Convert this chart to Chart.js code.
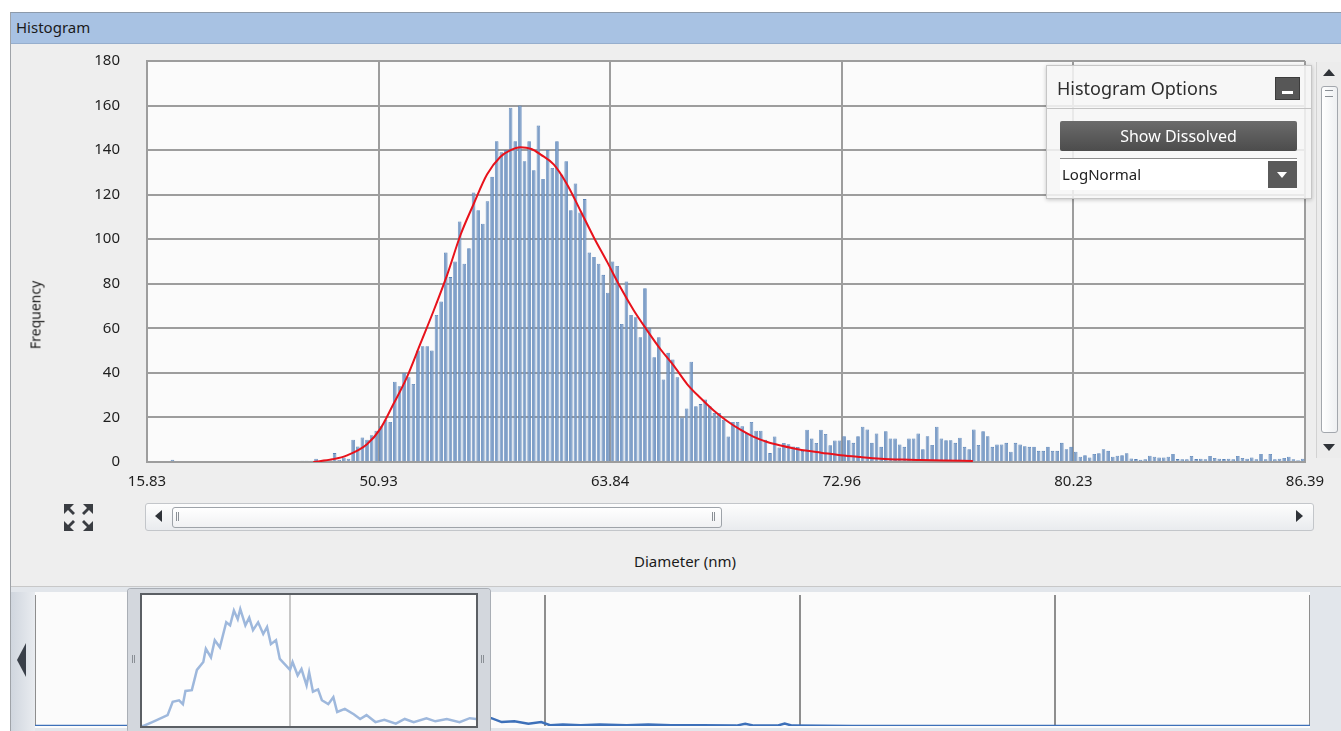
<!DOCTYPE html>
<html>
<head>
<meta charset="utf-8">
<script src="https://cdn.jsdelivr.net/npm/chart.js@4.4.1/dist/chart.umd.min.js"></script>
<style>
  body { margin: 0; background: #fff; font-family: 'Noto Sans', sans-serif; }
  #page { position: relative; width: 1341px; height: 731px; overflow: hidden; background: #fff; }
  .abs { position: absolute; }
  #panel { left: 10px; top: 12px; width: 1331px; height: 719px; background: #eeeeee; border-left: 1px solid #9fa3a8; border-top: 1px solid #8c9aab; }
  #header { left: 11px; top: 13px; width: 1330px; height: 30px; background: #a8c2e3; border-bottom: 1px solid #96aecd; }
  #header span { position: absolute; left: 5px; top: 4px; font-size: 15px; color: #1b1b1b; }
  #yTitle { left: 35px; top: 315px; font-size: 14px; color: #1b1b1b; transform: translate(-50%, -50%) rotate(-90deg); white-space: nowrap; }
  #xTitle { left: 685px; top: 561px; font-size: 15px; color: #1b1b1b; transform: translate(-50%, -50%); }
  #hscroll { left: 145px; top: 503px; width: 1167px; height: 26px; border: 1px solid #c3c6ca; border-radius: 3px; background: linear-gradient(#fdfdfd, #e9ebee); }
  #hthumb { left: 172px; top: 507px; width: 548px; height: 19px; border: 1px solid #9ea3a9; border-radius: 3px; background: linear-gradient(#ffffff, #f0f1f3); }
  .grip { width: 1px; height: 9px; border-left: 1px solid #8a8f95; border-right: 1px solid #8a8f95; }
  .triL { width: 0; height: 0; border-top: 6px solid transparent; border-bottom: 6px solid transparent; border-right: 7px solid #2f3338; }
  .triR { width: 0; height: 0; border-top: 6px solid transparent; border-bottom: 6px solid transparent; border-left: 7px solid #2f3338; }
  .triU { width: 0; height: 0; border-left: 6px solid transparent; border-right: 6px solid transparent; border-bottom: 7px solid #2f3338; }
  .triD { width: 0; height: 0; border-left: 6px solid transparent; border-right: 6px solid transparent; border-top: 7px solid #2f3338; }
  #vscroll { left: 1316px; top: 62px; width: 24px; height: 396px; background: #ececec; border-left: 1px solid #d2d2d2; }
  #vthumb { left: 1321px; top: 86px; width: 15px; height: 345px; border: 1px solid #a3a7ad; border-radius: 3px; background: linear-gradient(to right, #ffffff, #eef0f2); }
  #opts { left: 1046px; top: 65px; width: 264px; height: 132px; background: rgba(246,246,246,0.86); border: 1px solid #c6c6c6; box-shadow: 0 1px 4px rgba(0,0,0,0.22); }
  #optTitle { left: 10px; top: 10px; font-size: 18px; color: #2e2e2e; }
  #minBtn { left: 228px; top: 11px; width: 23px; height: 21px; background: #575757; border: 1px solid #3c3c3c; }
  #minBtn div { position: absolute; left: 6px; top: 13px; width: 11px; height: 3px; background: #fff; }
  #optSep { left: 0; top: 42px; width: 264px; height: 1px; background: #c4c4c4; }
  #dissolve { left: 13px; top: 55px; width: 237px; height: 30px; background: linear-gradient(#6b6b6b, #4c4c4c); border-radius: 2px; color: #fff; font-size: 16px; text-align: center; line-height: 30px; }
  #drop { left: 13px; top: 92px; width: 237px; height: 31px; background: #fff; border-top: 1px solid #8c8c8c; }
  #drop span { position: absolute; left: 2px; top: 5px; font-size: 15px; color: #222; }
  #dropArrow { left: 208px; top: 2px; width: 29px; height: 27px; background: #5a5a5a; }
  #ovBox { left: 11px; top: 586px; width: 1330px; height: 145px; background: #e2e6eb; border-top: 1px solid #c8c8c8; }
  #ovLeft { left: 11px; top: 592px; width: 24px; height: 139px; background: linear-gradient(to right, #d0d6de, #e9ecf0); }
  #ovPlot { left: 35px; top: 592px; width: 1275px; height: 136px; background: #fbfbfb; }
  #winFrame { left: 128px; top: 589px; width: 338px; height: 135px; border-style: solid; border-color: #d3d7dd; border-width: 4px 12px 4px 12px; border-radius: 3px; box-shadow: 0 0 0 1px #a9aeb5; }
  #winInner { left: 140px; top: 593px; width: 334px; height: 131px; border: 2px solid #5b5f64; background: rgba(255,255,255,0.5); }
</style>
</head>
<body>
<div id="page">
  <div id="panel" class="abs"></div>

  <canvas id="histChart" class="abs" style="left:0;top:25px;" width="1341" height="489"></canvas>

  <div id="header" class="abs"><span>Histogram</span></div>
  <div id="yTitle" class="abs">Frequency</div>

  <svg class="abs" style="left:63px;top:503px" width="31" height="29" viewBox="0 0 31 29">
    <g fill="#3a3d42">
      <polygon points="1,1 11,1 7,5 12,10 10,12 5,7 1,11"/>
      <polygon points="30,1 20,1 24,5 19,10 21,12 26,7 30,11"/>
      <polygon points="1,28 11,28 7,24 12,19 10,17 5,22 1,18"/>
      <polygon points="30,28 20,28 24,24 19,19 21,17 26,22 30,18"/>
    </g>
  </svg>

  <div id="hscroll" class="abs"></div>
  <div class="abs triL" style="left:155px;top:510px"></div>
  <div class="abs triR" style="left:1296px;top:510px"></div>
  <div id="hthumb" class="abs"></div>
  <div class="abs grip" style="left:176px;top:512px"></div>
  <div class="abs grip" style="left:712px;top:512px"></div>

  <div id="xTitle" class="abs">Diameter (nm)</div>

  <div id="vscroll" class="abs"></div>
  <div class="abs triU" style="left:1323px;top:69px"></div>
  <div id="vthumb" class="abs"></div>
  <div class="abs" style="left:1325px;top:90px;width:8px;height:5px;border-top:1px solid #8a8f95;border-bottom:1px solid #8a8f95"></div>
  <div class="abs triD" style="left:1323px;top:444px"></div>

  <div id="opts" class="abs">
    <div id="optTitle" class="abs">Histogram Options</div>
    <div id="minBtn" class="abs"><div></div></div>
    <div id="optSep" class="abs"></div>
    <div id="dissolve" class="abs">Show Dissolved</div>
    <div id="drop" class="abs"><span>LogNormal</span>
      <div id="dropArrow" class="abs"><div class="abs" style="left:9px;top:11px;width:0;height:0;border-left:5px solid transparent;border-right:5px solid transparent;border-top:6px solid #fff"></div></div>
    </div>
  </div>

  <div id="ovBox" class="abs"></div>
  <div id="ovLeft" class="abs"></div>
  <div class="abs triL" style="left:17px;top:643px;border-top-width:17px;border-bottom-width:17px;border-right-width:9px;border-right-color:#3a4049"></div>
  <div id="ovPlot" class="abs"></div>
  <canvas id="overviewChart" class="abs" style="left:35px;top:595px;" width="1275" height="131"></canvas>
  <div id="winInner" class="abs"></div>
  <div id="winFrame" class="abs"></div>
  <div class="abs grip" style="left:132px;top:655px;height:8px"></div>
  <div class="abs grip" style="left:481px;top:655px;height:8px"></div>
</div>

<script>
// Histogram bins (250 bins across the visible diameter range)
const frequency = [
  0, 0, 0, 0, 0, 1, 0, 0, 0, 0,
  0, 0, 0, 0, 0, 0, 0, 0, 0, 0,
  0, 0, 0, 0, 0, 0, 0, 0, 0, 0,
  0, 0, 0, 0.6, 0.6, 0.6, 1.5, 0.5, 0, 0.8,
  4, 1, 2, 1.5, 10, 7, 11, 10, 12, 14,
  16, 19, 18, 36, 34, 40, 38, 35, 50, 52,
  52, 50, 66, 72, 94, 83, 90, 108, 89, 96,
  121, 113, 107, 117, 128, 144, 139, 140, 159, 144,
  160, 135, 144, 131, 151, 127, 140, 132, 144, 129,
  135, 113, 125, 112, 118, 94, 92, 89, 84, 76,
  90, 88, 62, 81, 66, 65, 56, 78, 60, 47,
  56, 37, 49, 46, 38, 20, 24, 45, 25, 26,
  28, 25, 22, 22, 19, 11.5, 18, 18, 16, 13,
  18, 14, 14, 10, 4, 11.5, 6.5, 8.5, 8, 7,
  6.7, 5, 14.5, 10.5, 8.5, 14.5, 12.6, 7.5, 9.7, 9.7,
  11.6, 9.8, 8.6, 11.6, 15.8, 14.6, 8.6, 12.8, 6.8, 13.8,
  10.6, 10.6, 7.9, 6.8, 10.6, 10.6, 12.8, 5.7, 11.6, 7.6,
  15.8, 10.6, 9.8, 9.8, 8.6, 10.9, 6.8, 5.7, 14.6, 7.6,
  13.8, 11.6, 6.8, 7.9, 7.9, 8.6, 4.6, 8.6, 7.9, 7.1,
  6.8, 6.8, 5, 5, 6.8, 5, 5, 8.6, 5.7, 6.8,
  4.6, 2.4, 3, 2, 3.6, 3.9, 5.7, 5, 2.4, 2.8,
  3, 3.9, 1.6, 1.3, 1, 1.2, 2.8, 2.4, 2, 2,
  2.4, 3.6, 1.3, 1.2, 1.2, 2.7, 1.3, 1.5, 1.2, 2.7,
  1.8, 1.5, 1.3, 1.5, 1.2, 2.7, 1.8, 1.5, 2, 1.2,
  3.6, 1.2, 3.6, 1.2, 1.5, 1.8, 2.4, 1.2, 0.8, 1.5
];

// Tick labels shown at every 50th bin edge
const xTickLabels = ['15.83', '50.93', '63.84', '72.96', '80.23', '86.39'];

// LogNormal fit (bin position, frequency)
const fitPos = [35.9, 40, 43.2, 47.5, 50.4, 53.2, 56.1, 59, 61.9, 64.8, 67.7, 70.5, 73.4, 76.3, 78.5, 80.6,
  83, 85, 87.8, 90.7, 93.6, 96.5, 99.4, 102.2, 105.1, 108, 110.9, 113.8, 116.6, 119.5, 122.4, 125.3,
  128.1, 131, 133.9, 136.8, 139.7, 142.6, 145.5, 149.8, 154, 158.4, 163, 167.1, 172, 178.3];
const fitFreq = [0, 1.2, 3, 8, 15, 26, 38, 53, 68, 84, 102, 115.7, 129, 137, 140, 141.3,
  140.5, 138, 133.6, 124.6, 112.7, 100.7, 89.6, 78.4, 68, 59, 50.5, 43, 35, 28.7, 23, 18.3,
  14.5, 11.3, 9, 7.4, 6.1, 5, 4.2, 3, 2.2, 1.5, 1.1, 0.9, 0.7, 0.5];

// Overview strip (position in % of full range, frequency)
const overviewPos = [0, 7.3, 8.5, 9.2, 10.4, 10.8, 11.3, 11.6, 11.8, 12.3, 12.7, 13.2, 13.4, 13.8, 14.1, 14.5,
  15.0, 15.3, 15.6, 15.9, 16.1, 16.5, 16.8, 17.1, 17.5, 17.9, 18.2, 18.5, 18.9, 19.2, 20.0, 20.2,
  20.6, 20.9, 21.3, 21.5, 21.8, 22.2, 22.5, 23.0, 23.4, 23.7, 24.3, 25.0, 25.5, 26.0, 26.7, 27.4,
  28.3, 29.0, 29.7, 30.7, 31.4, 32.3, 33.3, 34.1, 34.6, 35.8, 36.6, 37.6, 38.7, 39.7, 40.4, 41.4,
  42.8, 44.3, 46.4, 48.1, 49.9, 52.3, 55.0, 55.7, 56.4, 58.2, 58.8, 59.4, 64.1, 100];
const overviewFreq = [0, 0, 0, 5, 14, 31, 33, 28, 45, 46, 72, 82, 99, 88, 110, 101,
  133, 129, 148, 137, 150, 129, 139, 123, 133, 118, 127, 105, 110, 86, 72, 82,
  65, 73, 52, 69, 44, 47, 33, 28, 37, 18, 22, 15, 9, 14, 5, 8,
  3, 9, 5, 10, 6, 9, 5, 10, 9, 10, 5, 6, 3, 5, 1, 2,
  1, 2, 1, 2, 1, 1, 0.5, 3, 0.5, 0.5, 3, 0.5, 0, 0];

const plotBackground = {
  id: 'plotBackground',
  beforeDraw(chart) {
    const { ctx, chartArea: a } = chart;
    ctx.save();
    ctx.fillStyle = '#fbfbfb';
    ctx.fillRect(a.left, a.top, a.right - a.left, a.bottom - a.top);
    ctx.restore();
  }
};

function createHistogram() {
  const ctx = document.getElementById('histChart');
  return new Chart(ctx, {
    type: 'bar',
    data: {
      datasets: [
        {
          type: 'line',
          data: fitPos.map((p, i) => ({ x: p, y: fitFreq[i] })),
          borderColor: '#e8121b',
          borderWidth: 2,
          pointRadius: 0,
          cubicInterpolationMode: 'monotone',
          order: 0
        },
        {
          data: frequency.map((v, i) => ({ x: i + 0.5, y: v })),
          backgroundColor: '#7f9fc8',
          borderColor: '#5a84b9',
          borderWidth: 0.8,
          barPercentage: 0.78,
          categoryPercentage: 1,
          order: 1
        }
      ]
    },
    options: {
      responsive: false,
      animation: false,
      layout: { padding: { left: 0, right: 36, top: 16, bottom: 12 } },
      plugins: { legend: { display: false }, tooltip: { enabled: false } },
      scales: {
        x: {
          type: 'linear',
          min: 0,
          max: 250,
          offset: false,
          grid: { offset: false, color: '#9d9d9d', lineWidth: 2, drawTicks: false },
          border: { color: '#9d9d9d', width: 2 },
          ticks: {
            stepSize: 50,
            autoSkip: false,
            maxRotation: 0,
            padding: 11,
            color: '#1e1e1e',
            font: { family: 'Noto Sans', size: 15 },
            callback: (v) => xTickLabels[v / 50]
          },
          afterFit: (scale) => { scale.height = 40; }
        },
        y: {
          min: 0,
          max: 180,
          grid: { color: '#9d9d9d', lineWidth: 2, drawTicks: false },
          border: { color: '#9d9d9d', width: 2 },
          ticks: {
            stepSize: 20,
            padding: 27,
            color: '#1e1e1e',
            font: { family: 'Noto Sans', size: 15 }
          },
          afterFit: (scale) => { scale.width = 147; }
        }
      }
    },
    plugins: [plotBackground]
  });
}

function createOverview() {
  const ctx = document.getElementById('overviewChart');
  return new Chart(ctx, {
    type: 'line',
    data: {
      datasets: [{
        data: overviewPos.map((p, i) => ({ x: p, y: overviewFreq[i] })),
        borderColor: '#3d70b9',
        borderWidth: 2.5,
        pointRadius: 0,
        tension: 0
      }]
    },
    options: {
      responsive: false,
      animation: false,
      layout: { padding: 0 },
      plugins: { legend: { display: false }, tooltip: { enabled: false } },
      scales: {
        x: {
          type: 'linear',
          min: 0,
          max: 100,
          ticks: { display: false, stepSize: 20 },
          grid: { color: '#8e8e8e', lineWidth: 2, drawTicks: false },
          border: { display: false },
          afterFit: (scale) => { scale.height = 0; }
        },
        y: { min: 0, max: 168, display: false }
      }
    }
  });
}

// Main code
createHistogram();
createOverview();
</script>
</body>
</html>
